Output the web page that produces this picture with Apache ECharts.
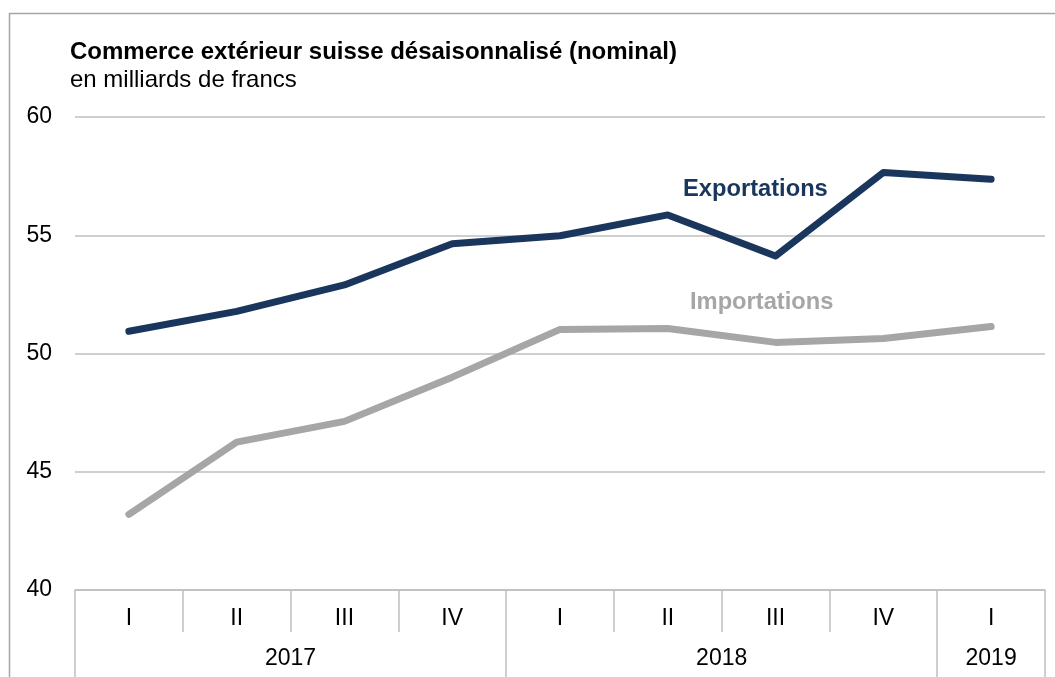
<!DOCTYPE html>
<html><head><meta charset="utf-8">
<script src="https://cdn.jsdelivr.net/npm/echarts@6/dist/echarts.min.js"></script>
<style>html,body{margin:0;padding:0;background:#fff}#c{width:1055px;height:677px}</style>
</head><body><div id="c"></div>
<script>
const quarters = ['I','II','III','IV','I','II','III','IV','I'];
const years = ['2017','2018','2019'];
const yearSpans = [4,4,1];
const exportations = [50.94,51.78,52.9,54.64,54.98,55.86,54.12,57.65,57.37];
const importations = [43.2,46.25,47.13,49.0,51.02,51.06,50.47,50.63,51.14];
const yTicks = [40,45,50,55,60];

// half-quarter grid for year axis (boundaryGap false): positions 0..2n
const halfCats = [];
const yearLabelPos = {};
const yearTickPos = new Set([0]);
let acc = 0;
years.forEach((y,i)=>{ yearLabelPos[acc + yearSpans[i]] = y; acc += yearSpans[i]*2; yearTickPos.add(acc); });
for (let i=0;i<=quarters.length*2;i++) halfCats.push(yearLabelPos[i] || '');

const font = 'Liberation Sans, Arial, sans-serif';
const chart = echarts.init(document.getElementById('c'), null, {renderer:'canvas'});
chart.setOption({
  animation:false,
  backgroundColor:'#fff',
  grid:{left:75,right:10,top:117,bottom:87,containLabel:false},
  graphic:[
    {type:'rect',left:7,top:11,shape:{width:1100,height:700},style:{fill:'none',stroke:'#a6a6a6',lineWidth:1.5},z:-1,silent:true},
    {type:'text',left:70,top:40,style:{text:'Commerce extérieur suisse désaisonnalisé (nominal)',font:'bold 24px '+font,fill:'#000'}},
    {type:'text',left:70,top:68,style:{text:'en milliards de francs',font:'24px '+font,fill:'#000'}},
    {type:'text',left:683,top:177,style:{text:'Exportations',font:'bold 23.7px '+font,fill:'#1b365d'}},
    {type:'text',left:690,top:290,style:{text:'Importations',font:'bold 23.7px '+font,fill:'#a6a6a6'}}
  ],
  xAxis:[
    {type:'category',data:quarters,position:'bottom',boundaryGap:true,
     axisLine:{show:true,lineStyle:{color:'#bfbfbf',width:1.5}},
     axisTick:{show:true,length:42,interval:0,lineStyle:{color:'#bfbfbf',width:1.5}},
     axisLabel:{interval:0,margin:17,fontSize:23,color:'#000',fontFamily:font},
     splitLine:{show:false}},
    {type:'category',data:halfCats,position:'bottom',boundaryGap:false,
     axisLine:{show:false},
     axisTick:{show:true,length:87,interval:(i)=>yearTickPos.has(i),lineStyle:{color:'#bfbfbf',width:1.5}},
     axisLabel:{interval:(i,v)=>v!=='',margin:57,fontSize:23,color:'#000',fontFamily:font},
     splitLine:{show:false}}
  ],
  yAxis:{type:'value',min:yTicks[0],max:yTicks[yTicks.length-1],interval:5,
    axisLine:{show:false},axisTick:{show:false},
    axisLabel:{margin:23,fontSize:23,color:'#000',fontFamily:font},
    splitLine:{show:true,lineStyle:{color:'#bfbfbf',width:1.5}}},
  series:[
    {name:'Exportations',type:'line',data:exportations,xAxisIndex:0,symbol:'none',
     lineStyle:{color:'#1b365d',width:7,cap:'round',join:'round'},z:3},
    {name:'Importations',type:'line',data:importations,xAxisIndex:0,symbol:'none',
     lineStyle:{color:'#a6a6a6',width:7,cap:'round',join:'round'},z:2}
  ]
});
</script></body></html>
